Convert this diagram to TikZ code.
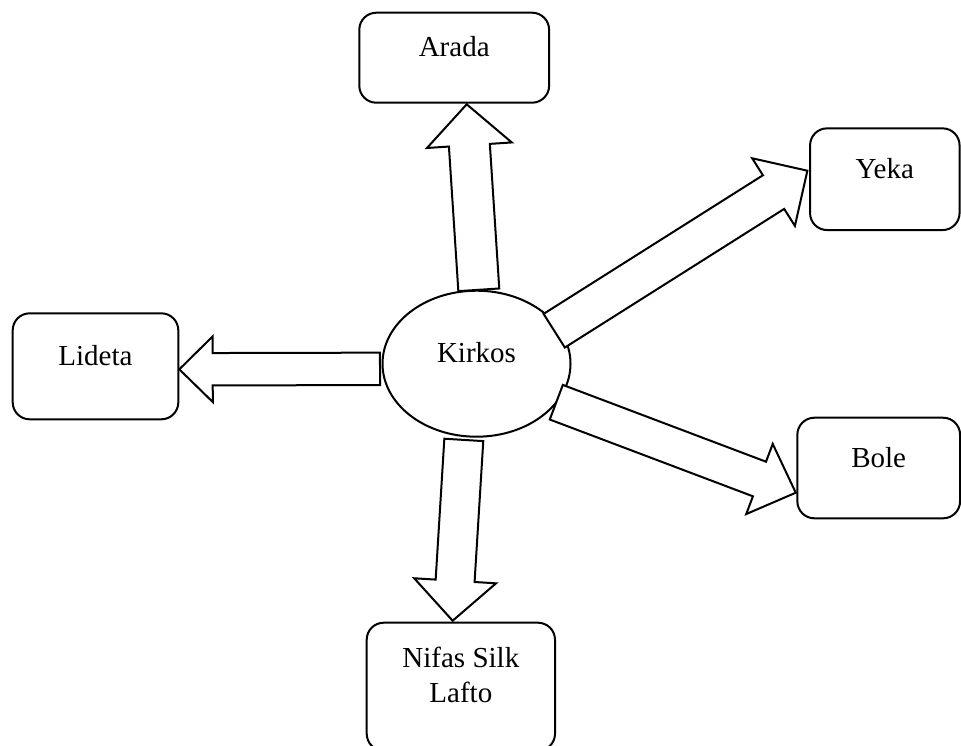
\documentclass[tikz,border=0pt]{standalone}
\usepackage{fontspec}
\setmainfont{Liberation Serif}
\usetikzlibrary{shapes.geometric,calc}

\begin{document}
\begin{tikzpicture}[x=0.5pt,y=-0.5pt,font=\fontsize{14.5pt}{17.85pt}\selectfont,
    district/.style={draw,line width=1pt,rounded corners=8.5pt,text height=10pt,text depth=11pt},
    blockarrow/.style={draw,fill=white,line width=1pt,line join=miter}]
    \useasboundingbox (0,0) rectangle (961,745);
    \clip (0,0) rectangle (961,745);

    \node[ellipse,draw,line width=1pt,minimum width=94pt,minimum height=73pt,
          text height=10pt,text depth=11pt] (kirkos) at (476.5,363.7) {Kirkos};

    \node[district,minimum width=94.9pt,minimum height=45pt]    (arada)  at (454.2,57.7)  {Arada};
    \node[district,minimum width=74.75pt,minimum height=50.85pt] (yeka)  at (884.8,179.2) {Yeka};
    \node[district,minimum width=81.35pt,minimum height=50.3pt]  (bole)  at (878.7,468)   {Bole};
    \node[district,minimum width=82.8pt,minimum height=53pt]     (lideta) at (95.5,366.3) {Lideta};
    \node[district,align=center,anchor=north,minimum width=94.15pt,inner ysep=4pt,
          text height=36pt,text depth=20pt] (nifas) at (460.85,621.7) {Nifas Silk\\Lafto};

    \coordinate (aradabase)  at ($(kirkos.center)+(2.3,-73.9)$);
    \coordinate (aradatip)   at ($(arada.south)+(12.5,0.6)$);
    \coordinate (yekabase)   at ($(kirkos.center)+(77.7,-33)$);
    \coordinate (yekatip)    at ($(yeka.west)+(-1.7,-8.5)$);
    \coordinate (bolebase)   at ($(kirkos.center)+(79.8,38.5)$);
    \coordinate (boletip)    at ($(bole.west)+(-0.6,24.7)$);
    \coordinate (nifasbase)  at ($(kirkos.center)+(-12.7,76.2)$);
    \coordinate (nifastip)   at ($(nifas.north)+(-8.2,-1)$);
    \coordinate (lidetabase) at ($(kirkos.center)+(-96.5,5.15)$);
    \coordinate (lidetatip)  at ($(lideta.east)+(0,3)$);

    \foreach \b/\t/\s/\h/\l in {aradabase/aradatip/10.25pt/21.25pt/20.5pt,
                                yekabase/yekatip/9.95pt/20pt/20pt,
                                bolebase/boletip/9.25pt/18.75pt/19.4pt,
                                nifasbase/nifastip/9.75pt/20.5pt/20pt,
                                lidetabase/lidetatip/8.1pt/16.4pt/16.7pt}
    {
        \path ($(\t)!\l!(\b)$) coordinate (hb);
        \draw[blockarrow] ($(\b)!\s!90:(\t)$) -- ($(hb)!\s!90:(\t)$) -- ($(hb)!\h!90:(\t)$) -- (\t)
            -- ($(hb)!\h!-90:(\t)$) -- ($(hb)!\s!-90:(\t)$) -- ($(\b)!\s!-90:(\t)$) -- cycle;
    }

\end{tikzpicture}
\end{document}
